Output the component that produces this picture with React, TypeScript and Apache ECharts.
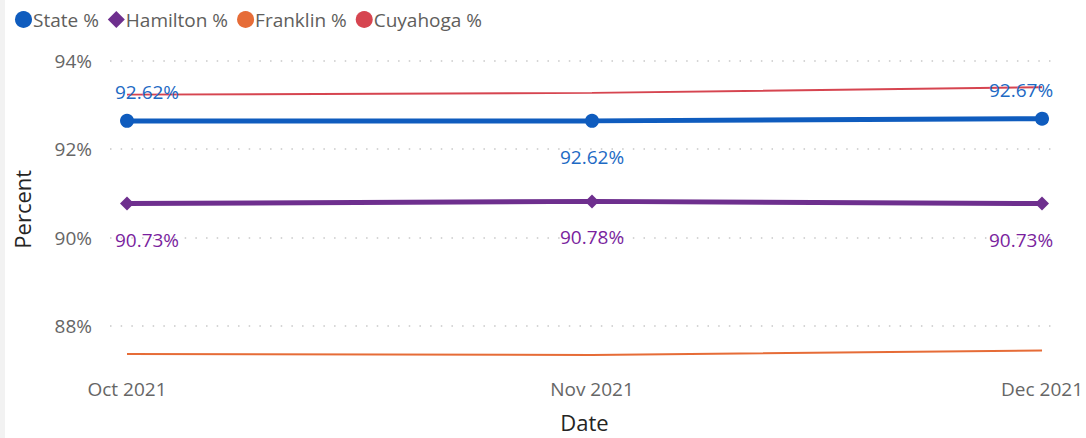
import React, { useEffect, useRef } from "react";
import * as echarts from "echarts";

const dates = ["2021-10-01", "2021-11-01", "2021-12-01"];
const monthNames = ["Jan", "Feb", "Mar", "Apr", "May", "Jun", "Jul", "Aug", "Sep", "Oct", "Nov", "Dec"];
const stateValues = [92.62, 92.62, 92.67];
const hamiltonValues = [90.73, 90.78, 90.73];
const franklinValues = [87.29, 87.27, 87.37];
const cuyahogaValues = [93.22, 93.26, 93.39];
const yTicks = [88, 90, 92, 94];

const seriesNames = ["State %", "Hamilton %", "Franklin %", "Cuyahoga %"];
const colors = ["#0F5CBE", "#6E2F8E", "#E66C37", "#D64550"];
const labelColors = ["#1D6AC4", "#7A1F9E"];

// label placement style (not data)
const statePlacement = ["top", "bottom", "top"];
const hamiltonPlacement = ["bottom", "bottom", "bottom"];
const labelShiftX = [20, 0, -21];

const toTime = (s: string) => {
  const [y, m, d] = s.split("-").map(Number);
  return new Date(y, m - 1, d).getTime();
};

export default function App() {
  const ref = useRef<HTMLDivElement>(null);
  useEffect(() => {
    document.body.style.margin = "0";
    if (!ref.current) return;
    const chart = echarts.init(ref.current, undefined, { renderer: "svg" });
    const times = dates.map(toTime);
    const font = "'Open Sans', 'Noto Sans', sans-serif";

    const mkData = (vals: number[], placement: string[]) =>
      vals.map((v, i) => ({
        value: [times[i], v],
        label: {
          position: placement[i],
          distance: placement[i] === "top" ? 11 : 18,
          offset: [labelShiftX[i], 0],
        },
      }));

    const pxPerPct = 44.25;
    const gridTop = 60.5;
    const dataMin = 87.2;

    chart.setOption({
      animation: false,
      textStyle: { fontFamily: font },
      graphic: [
        { type: "rect", shape: { x: 0, y: 0, width: 5, height: 438 }, style: { fill: "#F2F2F2" }, silent: true },
      ],
      legend: {
        left: 10,
        top: 5,
        itemWidth: 17,
        itemHeight: 17,
        itemGap: 9,
        data: [
          { name: seriesNames[0], icon: "circle" },
          { name: seriesNames[1], icon: "diamond" },
          { name: seriesNames[2], icon: "circle" },
          { name: seriesNames[3], icon: "circle" },
        ],
        textStyle: { fontSize: 19, color: "#605E5C", fontFamily: font, padding: [0, 0, 0, -4] },
      },
      grid: [
        { left: 110, right: 29, top: gridTop, height: (94 - 88) * pxPerPct },
        { left: 127, right: 1086 - 1044.3, top: gridTop, height: (94 - dataMin) * pxPerPct },
      ],
      xAxis: [
        { gridIndex: 0, type: "value", min: 0, max: 1, show: false },
        {
          gridIndex: 1,
          type: "value",
          min: times[0],
          max: times[times.length - 1],
          axisLine: { show: false },
          axisTick: { show: false },
          splitLine: { show: false },
          axisLabel: {
            customValues: times,
            margin: 21,
            fontSize: 19,
            color: "#666666",
            fontFamily: font,
            formatter: (val: number) => {
              const d = new Date(val);
              return `${monthNames[d.getMonth()]} ${d.getFullYear()}`;
            },
          },
          name: "Date",
          nameLocation: "middle",
          nameGap: 53,
          nameTextStyle: { fontSize: 22, color: "#252423", fontFamily: font },
        },
      ],
      yAxis: [
        {
          gridIndex: 0,
          type: "value",
          min: yTicks[0],
          max: yTicks[yTicks.length - 1],
          interval: yTicks[1] - yTicks[0],
          axisLine: { show: false },
          axisTick: { show: false },
          axisLabel: {
            margin: 18,
            fontSize: 19,
            color: "#666666",
            fontFamily: font,
            formatter: (v: number) => `${v}%`,
          },
          splitLine: {
            lineStyle: { color: "#C8C8C8", width: 1.5, type: [1.5, 9.17] },
          },
        },
        {
          gridIndex: 1,
          type: "value",
          min: dataMin,
          max: 94,
          axisLine: { show: false },
          axisTick: { show: false },
          axisLabel: { show: false },
          splitLine: { show: false },
          name: "Percent",
          nameLocation: "middle",
          nameGap: 94,
          nameTextStyle: { fontSize: 22, color: "#252423", fontFamily: font },
        },
      ],
      series: [
        {
          name: seriesNames[3],
          type: "line",
          xAxisIndex: 1,
          yAxisIndex: 1,
          data: cuyahogaValues.map((v, i) => [times[i], v]),
          showSymbol: false,
          symbol: "circle",
          itemStyle: { color: colors[3] },
          lineStyle: { color: colors[3], width: 2 },
          z: 1,
        },
        {
          name: seriesNames[2],
          type: "line",
          xAxisIndex: 1,
          yAxisIndex: 1,
          data: franklinValues.map((v, i) => [times[i], v]),
          showSymbol: false,
          symbol: "circle",
          itemStyle: { color: colors[2] },
          lineStyle: { color: colors[2], width: 2 },
          z: 1,
        },
        {
          name: seriesNames[1],
          type: "line",
          xAxisIndex: 1,
          yAxisIndex: 1,
          data: mkData(hamiltonValues, hamiltonPlacement),
          symbol: "diamond",
          symbolSize: 14,
          itemStyle: { color: colors[1] },
          lineStyle: { color: colors[1], width: 5 },
          label: {
            show: true,
            fontSize: 19,
            lineHeight: 22,
            color: labelColors[1],
            fontFamily: font,
            formatter: (p: any) => `${p.value[1].toFixed(2)}%`,
          },
          z: 3,
        },
        {
          name: seriesNames[0],
          type: "line",
          xAxisIndex: 1,
          yAxisIndex: 1,
          data: mkData(stateValues, statePlacement),
          symbol: "circle",
          symbolSize: 14,
          itemStyle: { color: colors[0] },
          lineStyle: { color: colors[0], width: 5 },
          label: {
            show: true,
            fontSize: 19,
            lineHeight: 22,
            color: labelColors[0],
            fontFamily: font,
            formatter: (p: any) => `${p.value[1].toFixed(2)}%`,
          },
          z: 4,
        },
      ],
    });
    return () => chart.dispose();
  }, []);
  return <div ref={ref} style={{ width: 1086, height: 438 }} />;
}
